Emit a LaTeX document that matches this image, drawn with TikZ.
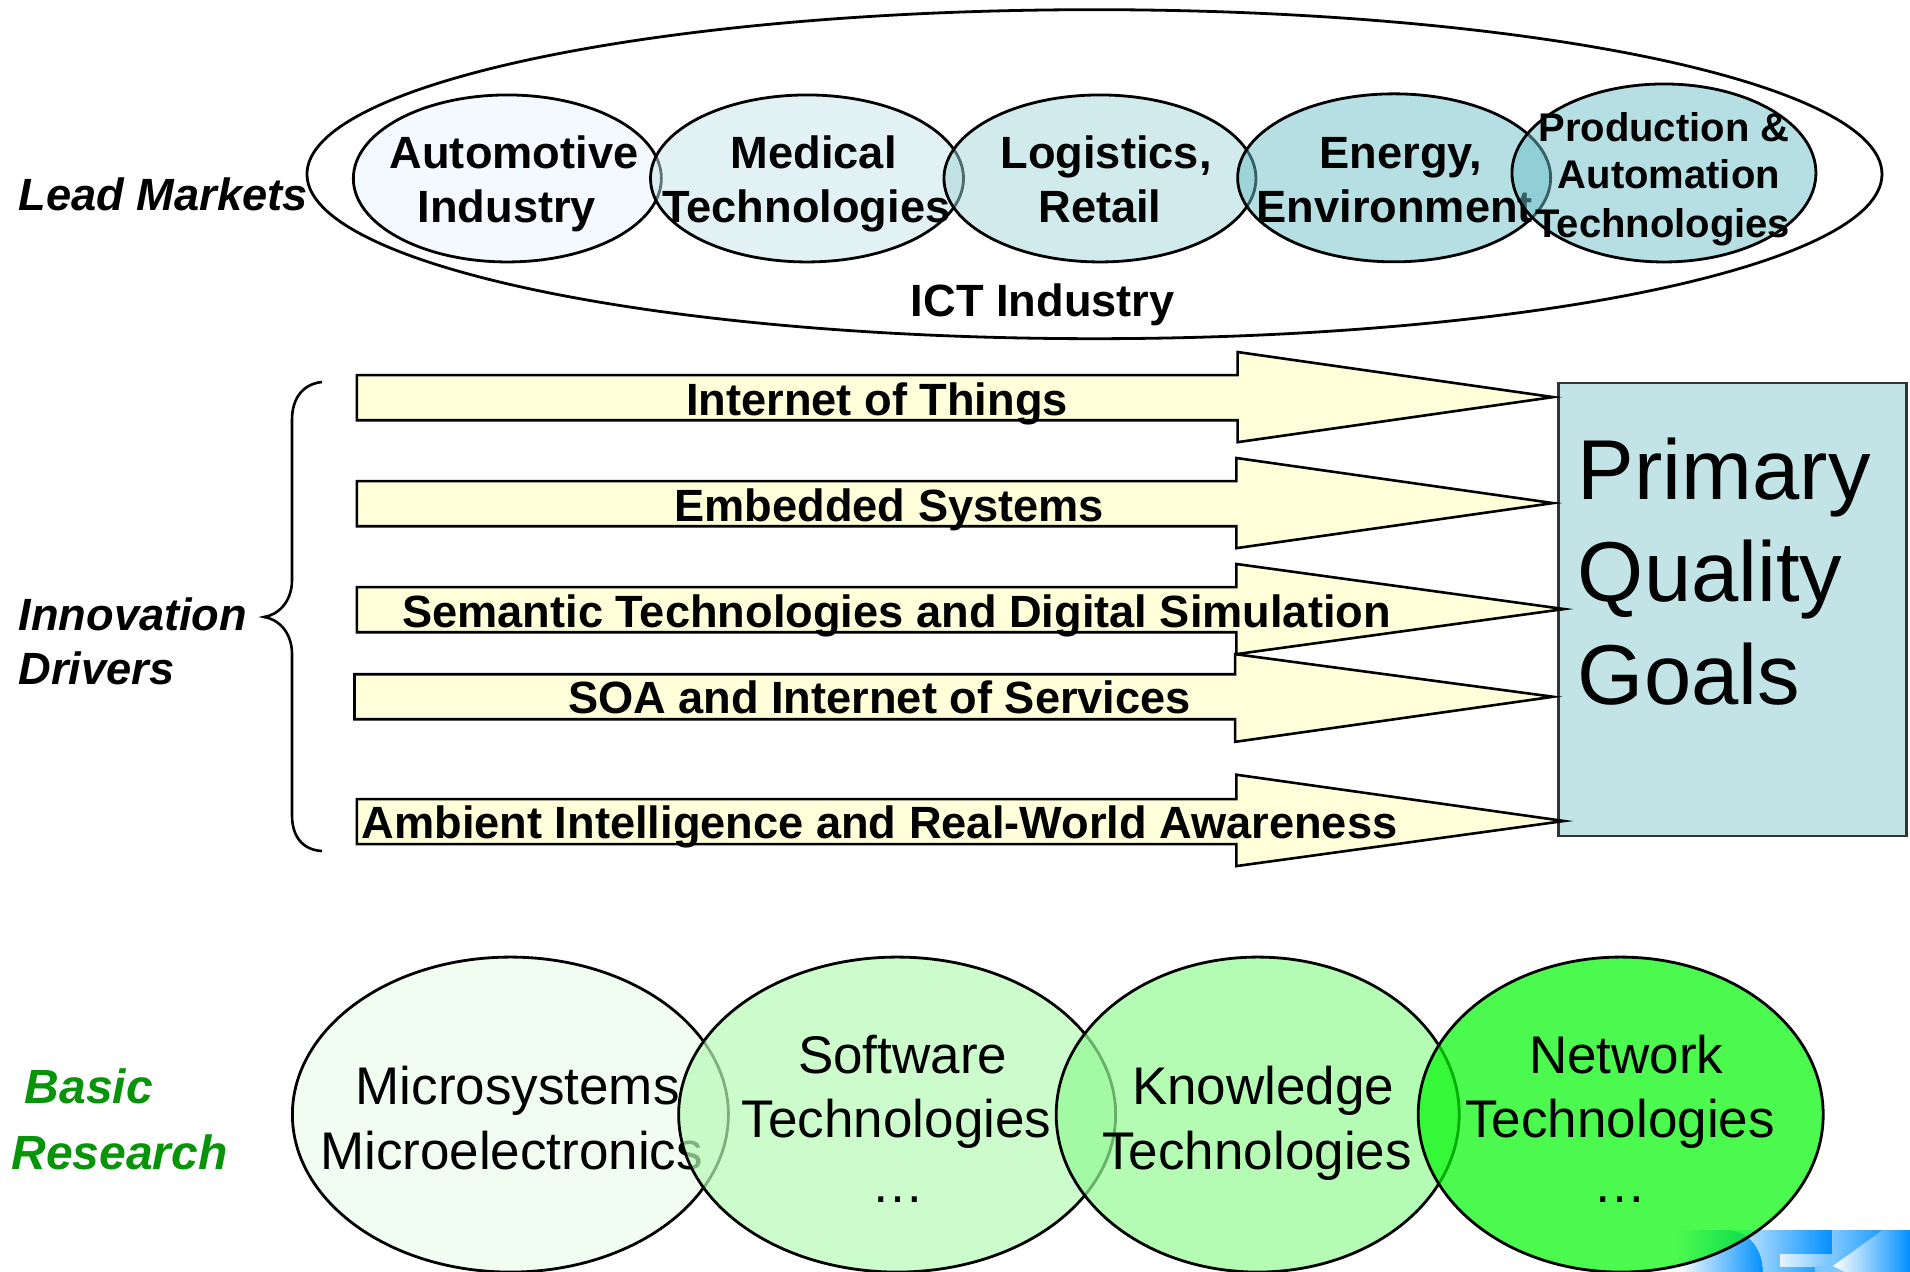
\documentclass[tikz,border=0pt]{standalone}
\usepackage{fontspec}
\setmainfont{Liberation Sans}
\usetikzlibrary{shapes.geometric}
\definecolor{arrowfill}{HTML}{FFFFD9}
\definecolor{goalfill}{HTML}{C2E4E6}
\definecolor{brgreen}{HTML}{089408}
\definecolor{logoblue}{HTML}{0090FF}
\tikzset{
  bx/.style={font=\fontsize{22.6}{27}\selectfont\bfseries,anchor=base,inner sep=0pt},
  pr/.style={font=\fontsize{20}{24}\selectfont\bfseries,anchor=base,inner sep=0pt},
  bi/.style={font=\fontsize{22.6}{27}\selectfont\bfseries\itshape,anchor=base west,inner sep=0pt},
  bgr/.style={font=\fontsize{24}{29}\selectfont\bfseries\itshape,anchor=base west,inner sep=0pt,text=brgreen},
  rg/.style={font=\fontsize{26.5}{31}\selectfont,anchor=base,inner sep=0pt},
  bg/.style={font=\fontsize{42.5}{50}\selectfont,anchor=base west,inner sep=0pt},
  mkt/.style={ellipse,draw=black,line width=1.4pt,inner sep=0pt,fill opacity=.5,draw opacity=1},
  res/.style={ellipse,draw=black,line width=1.4pt,inner sep=0pt,fill opacity=.7,draw opacity=1},
  arrowbody/.style={draw=black,fill=arrowfill,line width=1.3pt,line join=miter},
}
\newcommand{\headarrow}[8]{%
  \path[arrowbody] (#1,#2) -- (#4,#2) -- (#4,#5) -- (#7,#8) -- (#4,#6) -- (#4,#3) -- (#1,#3) -- cycle;}
\begin{document}
\begin{tikzpicture}[x=0.609056pt,y=-0.609056pt]
\useasboundingbox (0,0) rectangle (1568,1044.24);
\clip (0,0) rectangle (1568,1044.24);

% logo behind the research ellipses (pixel coordinates)
\begin{scope}[x=0.5pt,y=-0.5pt]
  \path[left color=white,right color=logoblue] (1677,1230) -- (1730,1230) .. controls (1750,1232) and (1763,1250) .. (1763,1272) -- (1677,1272) -- cycle;
  \path[left color=white!85!logoblue,right color=logoblue] (1730,1230) -- (1832,1230) -- (1832,1272) -- (1763,1272) .. controls (1763,1250) and (1750,1232) .. (1730,1230) -- cycle;
  \path[left color=white!90!logoblue,right color=white!45!logoblue] (1780,1254) -- (1832,1254) -- (1832,1266) -- (1780,1266) -- cycle;
  \path[fill=white!50!logoblue] (1815,1266) -- (1833,1266) -- (1845,1272) -- (1815,1272) -- cycle;
  \path[left color=white!50!logoblue,right color=white!10!logoblue] (1832,1230) -- (1883,1230) -- (1833,1266) -- (1832,1266) -- cycle;
  \path[left color=white,right color=logoblue] (1883,1230) -- (1910,1230) -- (1910,1272) -- (1845,1272) -- (1833,1266) -- cycle;
\end{scope}

% top
\node[bi] (lead) at (15,173) {Lead Markets};
\node[ellipse,draw=black,line width=1.4pt,inner sep=0pt,minimum width=787.5pt,minimum height=164.5pt] (ict) at (898.5,143) {};
\node[bx] (ictt) at (856,260) {ICT Industry};

\node[mkt,fill={rgb,255:red,231;green,243;blue,253},minimum width=154pt,minimum height=83.5pt] (auto) at (416.5,146.5) {};
\node[bx] (auto1) at (422,138) {Automotive};
\node[bx] (auto2) at (416,183) {Industry};
\node[mkt,fill={rgb,255:red,197;green,229;blue,233},minimum width=156.5pt,minimum height=83.5pt] (med) at (662.5,146.5) {};
\node[bx] (med1) at (668,138) {Medical};
\node[bx] (med2) at (662,183) {Technologies};
\node[mkt,fill={rgb,255:red,163;green,213;blue,217},minimum width=156pt,minimum height=83.5pt] (log) at (903,146.5) {};
\node[bx] (log1) at (908,138) {Logistics,};
\node[bx] (log2) at (903,183) {Retail};
\node[mkt,fill={rgb,255:red,107;green,191;blue,199},minimum width=156.5pt,minimum height=84pt] (ene) at (1144.5,146) {};
\node[bx] (ene1) at (1150,138) {Energy,};
\node[bx] (ene2) at (1145,183) {Environment};
\node[mkt,fill={rgb,255:red,107;green,191;blue,199},minimum width=152pt,minimum height=89pt] (pro) at (1366,142) {};
\node[pr] (pro1) at (1366,116) {Production \&};
\node[pr] (pro2) at (1370,155) {Automation};
\node[pr] (pro3) at (1365,195) {Technologies};

% brace (pixel coordinates)
\node[bi] (inn1) at (15,518) {Innovation};
\node[bi] (inn2) at (15,562) {Drivers};
\begin{scope}[x=0.5pt,y=-0.5pt]
  \coordinate (bt) at (322,382);
  \coordinate (bm) at (264,617);
  \coordinate (bb) at (322,851);
  \draw[line width=1.3pt] (bt) .. controls (303,384) and (292,398) .. (292,420) -- (292,580)
     .. controls (292,602) and (278,615) .. (bm) .. controls (278,619) and (292,632) .. (292,654)
     -- (292,815) .. controls (292,837) and (303,850) .. (bb);
\end{scope}

% goal box and arrows
\node[draw=black!80,fill=goalfill,line width=1.3pt,minimum width=174pt,minimum height=226.5pt,inner sep=0pt,anchor=north west] (goal) at (1278.3,313.5) {};
\node[bg] (g1) at (1295,410) {Primary};
\node[bg] (g2) at (1295,494) {Quality};
\node[bg] (g3) at (1295,578) {Goals};

\headarrow{293}{308}{345}{1016}{289}{363}{1275}{326}
\node[bx] (a1) at (720,341) {Internet of Things};
\headarrow{293}{395}{432}{1015}{376}{450}{1275}{413}
\node[bx] (a2) at (730,428) {Embedded Systems};
\headarrow{293}{482}{519}{1015}{463}{537}{1284}{500}
\node[bx] (a3) at (736,515) {Semantic Technologies and Digital Simulation};
\headarrow{291}{553.5}{590.5}{1014}{537}{609}{1275}{572}
\node[bx] (a4) at (722,586) {SOA and Internet of Services};
\headarrow{293}{656}{693}{1015}{636}{711}{1284}{674}
\node[bx] (a5) at (722,688) {Ambient Intelligence and Real-World Awareness};

% research
\node[bgr] (br1) at (20,906) {Basic};
\node[bgr] (br2) at (9,960) {Research};
\node[res,fill={rgb,255:red,236;green,252;blue,236},minimum width=218pt,minimum height=157.5pt] (micro) at (419,915) {};
\node[rg] (mi1) at (425,907) {Microsystems};
\node[rg] (mi2) at (420,960) {Microelectronics};
\node[res,fill={rgb,255:red,182;green,250;blue,182},minimum width=218.5pt,minimum height=157.5pt] (soft) at (736.5,915) {};
\node[rg] (so1) at (741,881) {Software};
\node[rg] (so2) at (736,934) {Technologies};
\node[rg] (so3) at (737,987) {…};
\node[res,fill={rgb,255:red,148;green,251;blue,148},minimum width=201.5pt,minimum height=157.5pt] (know) at (1032.5,915) {};
\node[rg] (kn1) at (1037,907) {Knowledge};
\node[rg] (kn2) at (1032,960) {Technologies};
\node[res,fill={rgb,255:red,0;green,247;blue,4},minimum width=202.5pt,minimum height=157.5pt] (net) at (1330.5,915) {};
\node[rg] (ne1) at (1335,881) {Network};
\node[rg] (ne2) at (1330,934) {Technologies};
\node[rg] (ne3) at (1330,987) {…};
\end{tikzpicture}
\end{document}
